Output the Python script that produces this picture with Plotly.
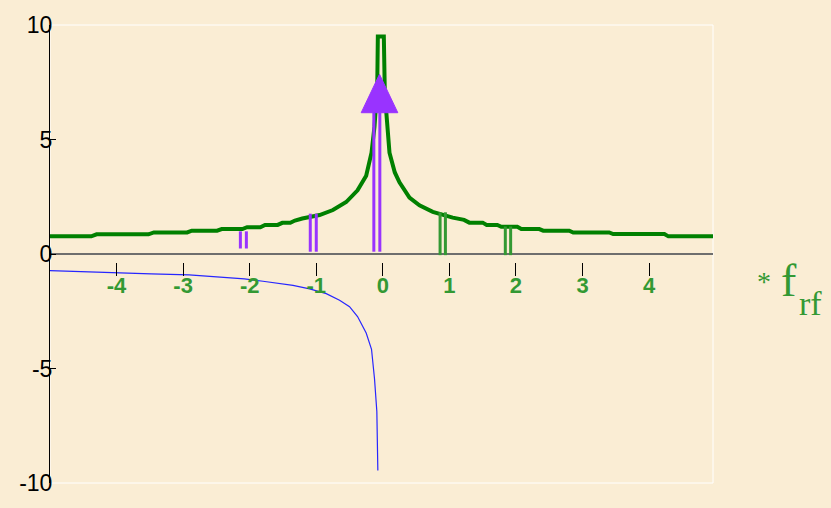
import plotly.graph_objects as go

# ---- data (frequency in units of f_rf) ----
# upper response curve (staircase-like, peaked at zero)
green_x = [-5.0, -4.38, -4.30, -3.52, -3.44, -2.94, -2.87, -2.49, -2.42, -2.11, -2.04,
           -1.84, -1.77, -1.58, -1.51, -1.39, -1.32, -1.21, -0.95, -0.75, -0.55, -0.38,
           -0.25, -0.17, -0.125, -0.084, -0.075, 0.015, 0.03, 0.05, 0.10, 0.18, 0.25,
           0.40, 0.55, 0.75, 0.90, 1.05, 1.22, 1.30, 1.50, 1.56, 1.72, 1.78, 2.02, 2.08,
           2.35, 2.41, 2.80, 2.86, 3.40, 3.46, 4.23, 4.29, 4.96]
green_y = [0.77, 0.77, 0.86, 0.86, 0.94, 0.94, 1.02, 1.02, 1.09, 1.09, 1.17,
           1.17, 1.27, 1.27, 1.36, 1.36, 1.46, 1.55, 1.70, 1.92, 2.27, 2.78,
           3.42, 4.42, 5.57, 7.30, 9.50, 9.50, 7.00, 6.10, 4.42, 3.56, 3.13,
           2.46, 2.13, 1.84, 1.70, 1.59, 1.49, 1.37, 1.37, 1.27, 1.27, 1.19, 1.19, 1.09,
           1.09, 1.02, 1.02, 0.94, 0.94, 0.87, 0.87, 0.77, 0.77]

# lower (negative) branch
blue_x = [-5.0, -4.34, -3.48, -2.91, -2.46, -2.08, -1.80, -1.60, -1.35, -1.10, -0.85,
          -0.65, -0.50, -0.38, -0.25, -0.17, -0.125, -0.09, -0.08, -0.075]
blue_y = [-0.73, -0.80, -0.87, -0.91, -0.99, -1.09, -1.19, -1.26, -1.37, -1.52, -1.73,
          -2.02, -2.30, -2.73, -3.45, -4.16, -5.45, -6.88, -8.20, -9.45]

# purple double lines (lower sidebands + carrier)
purple_pos = [-2.14, -2.05, -1.09, -1.00, -0.135, -0.045]
purple_lo = [0.24, 0.24, 0.10, 0.10, 0.10, 0.10]
purple_hi = [0.99, 0.99, 1.76, 1.76, 6.17, 6.17]

# green double lines (upper sidebands)
gbar_pos = [0.86, 0.94, 1.84, 1.92]
gbar_lo = [-0.05, -0.05, -0.05, -0.05]
gbar_hi = [1.82, 1.82, 1.20, 1.20]

# arrow head on the carrier
arrow_x = -0.05
arrow_base = 6.17
arrow_tip = 7.85
arrow_half = 0.275

x_ticks = [-4, -3, -2, -1, 0, 1, 2, 3, 4]
y_ticks = [-10, -5, 0, 5, 10]

BG = "#FAEDD4"
PURPLE = "#9933FF"
GREEN_DARK = "#008000"
GREEN_LIGHT = "#339933"


def segments(pos, lo, hi):
    xs, ys = [], []
    for p, a, b in zip(pos, lo, hi):
        xs += [p, p, None]
        ys += [a, b, None]
    return xs, ys


fig = go.Figure()

fig.add_trace(go.Scatter(x=blue_x, y=blue_y, mode="lines",
                         line=dict(color="#2626FF", width=1.2)))
fig.add_trace(go.Scatter(x=green_x, y=green_y, mode="lines",
                         line=dict(color=GREEN_DARK, width=4)))

px_, py_ = segments(purple_pos, purple_lo, purple_hi)
fig.add_trace(go.Scatter(x=px_, y=py_, mode="lines",
                         line=dict(color=PURPLE, width=3)))

gx_, gy_ = segments(gbar_pos, gbar_lo, gbar_hi)
fig.add_trace(go.Scatter(x=gx_, y=gy_, mode="lines",
                         line=dict(color=GREEN_LIGHT, width=3)))

fig.add_trace(go.Scatter(
    x=[arrow_x - arrow_half, arrow_x + arrow_half, arrow_x, arrow_x - arrow_half],
    y=[arrow_base, arrow_base, arrow_tip, arrow_base],
    mode="lines", fill="toself", fillcolor=PURPLE,
    line=dict(color=PURPLE, width=1)))

# light frame around the plotting area
fig.add_shape(type="rect", xref="paper", yref="paper", x0=0, x1=1, y0=0, y1=1,
              line=dict(color="white", width=1), layer="below")

# frequency label
label_font = dict(family="Liberation Serif", color=GREEN_LIGHT)
fig.add_annotation(text="*", xref="paper", yref="paper", xanchor="left",
                   x=(755 - 50) / 663, y=(486 - 281) / 466, showarrow=False,
                   font=dict(size=28, **label_font))
fig.add_annotation(text="f", xref="paper", yref="paper", xanchor="left",
                   x=(779 - 50) / 663, y=(486 - 280) / 466, showarrow=False,
                   font=dict(size=46, **label_font))
fig.add_annotation(text="rf", xref="paper", yref="paper", xanchor="left",
                   x=(797 - 50) / 663, y=(486 - 303) / 466, showarrow=False,
                   font=dict(size=34, **label_font))

fig.update_layout(
    width=831, height=508,
    margin=dict(l=50, r=118, t=19, b=22),
    paper_bgcolor=BG, plot_bgcolor=BG,
    showlegend=False,
    xaxis=dict(range=[-5.0, 4.96], anchor="free", position=(486 - 261) / 467,
               showline=False, showgrid=False, zeroline=False,
               tickmode="array", tickvals=x_ticks, ticktext=[str(v) for v in x_ticks],
               ticks="outside", ticklen=13, tickwidth=1, tickcolor="black",
               ticklabelstandoff=-10,
               tickfont=dict(family="Liberation Sans", size=22, color=GREEN_LIGHT,
                             weight="bold")),
    yaxis=dict(range=[-10, 10], showline=True, linecolor="black", linewidth=1,
               showgrid=False, zeroline=True, zerolinecolor="#6E6E6E", zerolinewidth=2,
               tickmode="array", tickvals=y_ticks, ticktext=[str(v) for v in y_ticks],
               ticks="inside", ticklen=6, tickwidth=1, tickcolor="black",
               ticklabelstandoff=-8,
               tickfont=dict(family="Liberation Sans", size=23, color="black")),
)

fig.write_html("out.html")
